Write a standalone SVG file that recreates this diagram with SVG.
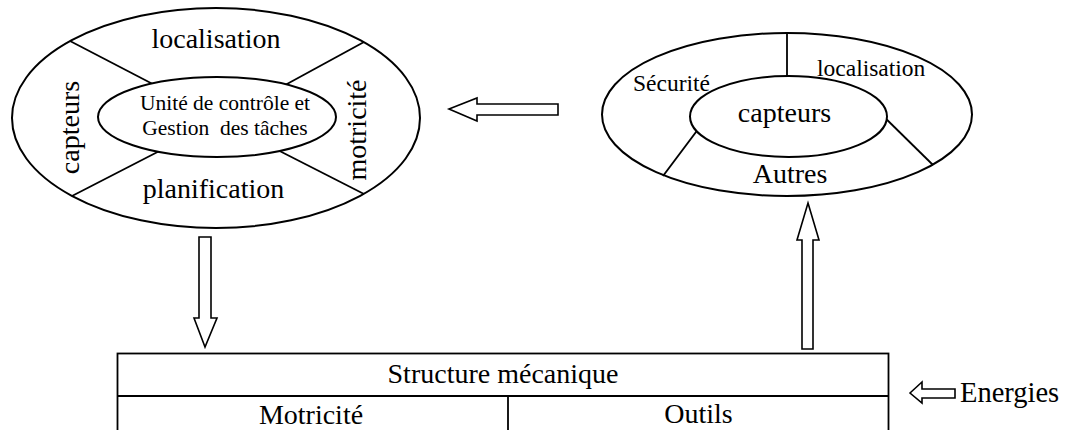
<svg xmlns="http://www.w3.org/2000/svg" width="1065" height="430" viewBox="0 0 1065 430">
<style>
.ln{stroke:#000;stroke-width:1.8;fill:none}
.el{stroke:#000;stroke-width:2;fill:#fff}
.ar{stroke:#000;stroke-width:1.6;fill:#fff;stroke-linejoin:miter}
text{font-family:"Liberation Serif","Times New Roman",serif;fill:#000}
.b{font-size:28px}
.m{font-size:23.5px}
.s{font-size:21.5px}
</style>
<rect width="1065" height="430" fill="#fff"/>
<g id="control">
<ellipse class="el" cx="216" cy="118" rx="204" ry="110"/>
<line class="ln" x1="70" y1="41" x2="170" y2="93"/>
<line class="ln" x1="364" y1="42" x2="265" y2="96"/>
<line class="ln" x1="72" y1="196" x2="175" y2="143"/>
<line class="ln" x1="364" y1="194" x2="260" y2="141"/>
<ellipse class="el" cx="217" cy="117" rx="119" ry="40"/>
<text class="b" x="216" y="48" text-anchor="middle">localisation</text>
<text class="b" x="213.5" y="198" text-anchor="middle">planification</text>
<text class="b" transform="translate(79,127.5) rotate(-90)" text-anchor="middle">capteurs</text>
<text class="b" transform="translate(366,130) rotate(-90)" text-anchor="middle">motricité</text>
<text class="s" x="225" y="110" text-anchor="middle">Unité de contrôle et</text>
<text class="s" x="225" y="135" text-anchor="middle" xml:space="preserve">Gestion  des tâches</text>
</g>
<g id="sensors">
<ellipse class="el" cx="787" cy="114.5" rx="185" ry="81.5"/>
<line class="ln" x1="787" y1="33" x2="787" y2="90"/>
<line class="ln" x1="663" y1="176" x2="705" y2="120"/>
<line class="ln" x1="933" y1="165" x2="875" y2="108"/>
<ellipse class="el" cx="788.5" cy="116.5" rx="98.5" ry="40.5"/>
<text class="m" x="633" y="91">Sécurité</text>
<text class="m" x="817" y="76">localisation</text>
<text class="b" x="784.5" y="122" text-anchor="middle">capteurs</text>
<text class="b" x="790" y="183" text-anchor="middle">Autres</text>
</g>
<g id="structure">
<rect x="117.5" y="353.5" width="771" height="80" fill="none" stroke="#000" stroke-width="1.8"/>
<line class="ln" x1="117.5" y1="396" x2="888.5" y2="396"/>
<line class="ln" x1="508" y1="396" x2="508" y2="432"/>
<text class="b" x="503" y="383" text-anchor="middle">Structure mécanique</text>
<text class="b" x="311" y="424" text-anchor="middle">Motricité</text>
<text class="b" x="698.5" y="423" text-anchor="middle">Outils</text>
</g>
<g id="energies">
<text class="b" x="960" y="402" style="font-size:28.5px">Energies</text>
</g>
<g id="connectors">
<polygon class="ar" points="449,109 477,98 477,104 558,104 558,115 477,115 477,121"/>
<polygon class="ar" points="205,347 194,318 199,318 199,237 211,237 211,318 217,318"/>
<polygon class="ar" points="808,203 819,240 813,240 813,349 802,349 802,240 797,240"/>
<polygon class="ar" points="910,393 922,382 922,389 955,389 955,398 922,398 922,403"/>
</g>
</svg>
